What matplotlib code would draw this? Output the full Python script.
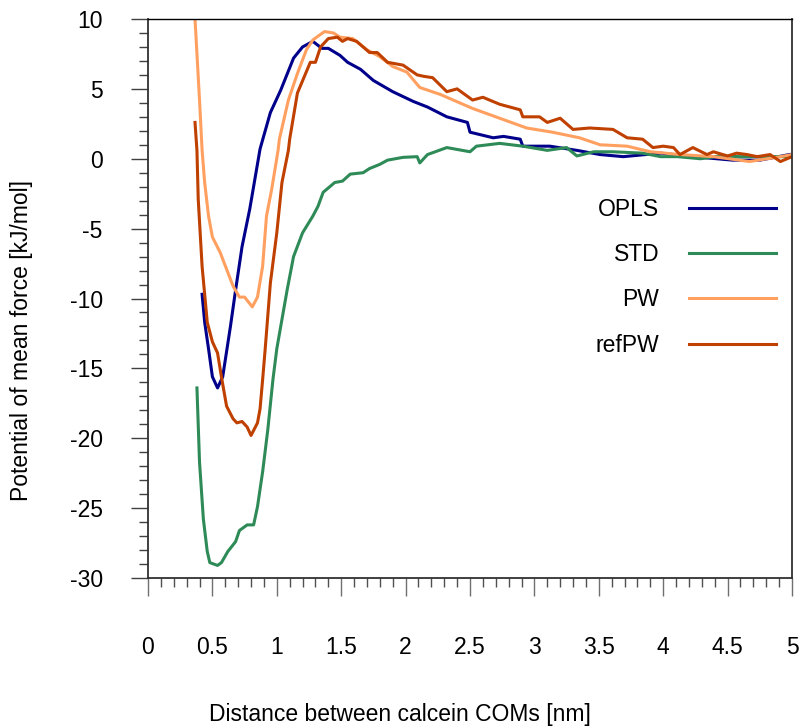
import matplotlib
matplotlib.use("Agg")
import matplotlib.pyplot as plt
from matplotlib.ticker import MultipleLocator

plt.rcParams['font.family'] = ['Liberation Sans', 'DejaVu Sans']

opls_x = [0.42, 0.44, 0.47, 0.50, 0.54, 0.58, 0.64, 0.68, 0.73, 0.79, 0.87, 0.95, 1.03, 1.13, 1.20,
          1.28, 1.35, 1.40, 1.49, 1.55, 1.65, 1.75, 1.90, 2.06, 2.17, 2.32, 2.48, 2.50, 2.68, 2.76,
          2.89, 2.91, 3.12, 3.33, 3.51, 3.69, 3.98, 4.23, 4.54, 4.75, 4.98]
opls_y = [-9.7, -11.7, -13.6, -15.6, -16.4, -15.6, -12.0, -9.4, -6.3, -3.6, 0.7, 3.3, 4.9, 7.2, 8.0,
          8.4, 7.9, 7.9, 7.4, 6.9, 6.4, 5.6, 4.8, 4.1, 3.7, 3.0, 2.6, 1.9, 1.5, 1.6,
          1.4, 0.9, 0.9, 0.6, 0.3, 0.15, 0.4, 0.15, -0.1, -0.1, 0.3]

std_x = [0.38, 0.40, 0.43, 0.46, 0.48, 0.54, 0.57, 0.62, 0.68, 0.71, 0.77, 0.82, 0.85, 0.89, 0.93,
         0.97, 1.00, 1.08, 1.13, 1.20, 1.28, 1.32, 1.36, 1.45, 1.51, 1.57, 1.67, 1.72, 1.80, 1.86,
         1.98, 2.09, 2.11, 2.17, 2.32, 2.50, 2.55, 2.73, 2.91, 3.10, 3.25, 3.33, 3.46, 3.61, 3.84,
         3.98, 4.11, 4.29, 4.44, 4.60, 4.75, 5.00]
std_y = [-16.4, -21.7, -25.8, -28.1, -28.9, -29.1, -28.9, -28.1, -27.4, -26.6, -26.2, -26.2, -24.9, -22.4, -19.4,
         -15.8, -13.6, -9.4, -7.0, -5.3, -4.1, -3.4, -2.4, -1.7, -1.6, -1.1, -1.0, -0.7, -0.4, -0.1,
         0.1, 0.15, -0.3, 0.3, 0.8, 0.5, 0.9, 1.1, 0.9, 0.6, 0.8, 0.2, 0.5, 0.5, 0.4,
         0.15, 0.15, 0.0, 0.2, 0.15, 0.15, 0.15]

pw_x = [0.365, 0.40, 0.42, 0.44, 0.47, 0.50, 0.56, 0.61, 0.66, 0.71, 0.75, 0.81, 0.85, 0.89, 0.92,
        0.96, 1.01, 1.02, 1.09, 1.16, 1.23, 1.28, 1.37, 1.44, 1.49, 1.59, 1.70, 1.80, 1.90, 2.01,
        2.11, 2.27, 2.32, 2.52, 2.73, 2.94, 3.14, 3.35, 3.51, 3.72, 3.90, 4.13, 4.39, 4.67, 4.91, 5.00]
pw_y = [10.0, 4.2, 0.6, -1.7, -4.1, -5.6, -6.7, -7.9, -9.1, -9.9, -9.9, -10.6, -9.9, -7.7, -4.1,
        -2.2, 0.6, 1.4, 4.2, 6.1, 7.8, 8.5, 9.1, 9.0, 8.7, 8.6, 7.8, 7.3, 6.6, 6.2,
        5.1, 4.6, 4.4, 3.6, 2.9, 2.2, 1.9, 1.5, 1.0, 0.9, 0.5, 0.3, 0.15, -0.2, 0.15, 0.3]

refpw_x = [0.365, 0.38, 0.39, 0.42, 0.46, 0.50, 0.54, 0.57, 0.61, 0.66, 0.69, 0.73, 0.77, 0.80, 0.85,
           0.87, 0.89, 0.91, 0.95, 1.00, 1.04, 1.09, 1.10, 1.16, 1.26, 1.30, 1.34, 1.40, 1.47, 1.51,
           1.55, 1.62, 1.72, 1.78, 1.86, 1.98, 2.09, 2.14, 2.21, 2.32, 2.40, 2.52, 2.60, 2.73, 2.89,
           2.91, 3.04, 3.10, 3.20, 3.30, 3.43, 3.61, 3.72, 3.84, 3.92, 4.00, 4.08, 4.13, 4.23, 4.34,
           4.39, 4.50, 4.57, 4.65, 4.73, 4.83, 4.91, 5.00]
refpw_y = [2.6, 0.6, -2.9, -7.7, -11.7, -13.1, -13.9, -15.6, -17.7, -18.6, -18.9, -18.8, -19.2, -19.8, -18.9,
           -17.9, -15.8, -13.6, -8.9, -5.3, -1.7, 0.6, 1.4, 4.7, 6.9, 6.9, 8.0, 8.6, 8.7, 8.4,
           8.6, 8.4, 7.6, 7.6, 6.9, 6.7, 6.0, 5.9, 5.8, 4.8, 5.0, 4.2, 4.4, 3.9, 3.5,
           3.0, 3.0, 2.6, 2.9, 2.1, 2.2, 2.1, 1.5, 1.4, 0.8, 0.9, 0.8, 0.3, 0.8, 0.3,
           0.5, 0.2, 0.4, 0.3, 0.15, 0.3, -0.2, 0.15]

series_labels = ["OPLS", "STD", "PW", "refPW"]
series_colors = ["#00008b", "#2e8b57", "#ffa060", "#c04000"]

W, H = 801, 727
fig = plt.figure(figsize=(W / 100, H / 100), dpi=100)
ax = fig.add_axes([148 / W, 1 - 578 / H, (792 - 148) / W, (578 - 19) / H])

lw = 2.2
for xs, ys, lab, col in zip([opls_x, std_x, pw_x, refpw_x], [opls_y, std_y, pw_y, refpw_y],
                            series_labels, series_colors):
    ax.plot(xs, ys, color=col, lw=lw, label=lab, solid_joinstyle='round')

ax.set_xlim(0, 5)
ax.set_ylim(-30, 10)
ax.xaxis.set_minor_locator(MultipleLocator(0.1))
ax.yaxis.set_minor_locator(MultipleLocator(1))
ax.set_xticks([0, 0.5, 1, 1.5, 2, 2.5, 3, 3.5, 4, 4.5, 5])
ax.set_xticklabels(["0", "0.5", "1", "1.5", "2", "2.5", "3", "3.5", "4", "4.5", "5"])
ax.set_yticks([-30, -25, -20, -15, -10, -5, 0, 5, 10])
ax.set_yticklabels(["-30", "-25", "-20", "-15", "-10", "-5", "0", "5", "10"])

fs = 16.5
ax.tick_params(axis='x', which='major', direction='out', length=13, width=1.0, color='#707070',
               pad=29, labelsize=fs)
ax.tick_params(axis='x', which='minor', direction='out', length=6.5, width=1.0, color='#505050')
ax.tick_params(axis='y', which='major', direction='out', length=12.5, width=1.0, color='#404040',
               pad=20, labelsize=fs)
ax.tick_params(axis='y', which='minor', direction='out', length=6.5, width=1.0, color='#404040')

for side in ['left', 'bottom', 'right']:
    ax.spines[side].set_color('#303030')
    ax.spines[side].set_linewidth(1.3)
ax.spines['top'].set_color('black')
ax.spines['top'].set_linewidth(1.0)

fig.text(22 / W, 1 - 340 / H, "Potential of mean force [kJ/mol]", rotation=90,
         ha='center', va='center', fontsize=fs)
fig.text(400 / W, 1 - 715 / H, "Distance between calcein COMs [nm]",
         ha='center', va='center', fontsize=fs)

leg = ax.legend(loc='upper right', bbox_to_anchor=((776 - 148) / (792 - 148), (578 - 198) / (578 - 19)),
                frameon=False, markerfirst=False, fontsize=fs, handlelength=3.8,
                handletextpad=1.3, labelspacing=0.97, borderpad=0, borderaxespad=0)

fig.savefig("out.png", dpi=100)
